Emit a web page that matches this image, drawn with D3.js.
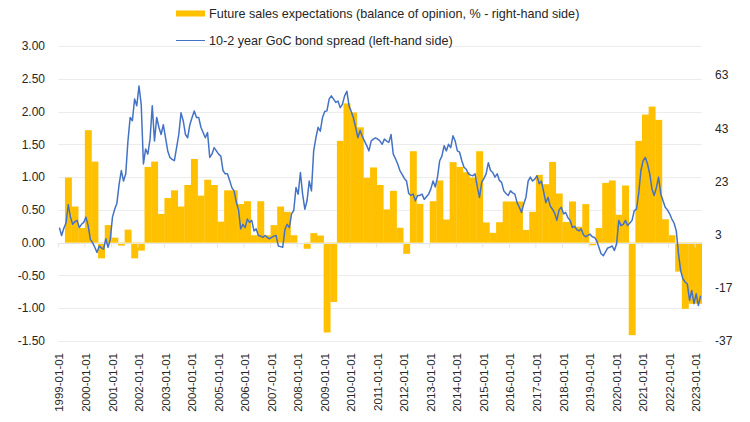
<!DOCTYPE html>
<html>
<head>
<meta charset="utf-8">
<script src="https://cdn.jsdelivr.net/npm/d3@7"></script>
<style>
body { margin: 0; background: #fff; }
text { font-family: "Liberation Sans", Arial, sans-serif; fill: #262626; }
</style>
</head>
<body>
<script>
// 10-2 year GoC bond spread, monthly, Jan 1999 - Mar 2023 (left axis)
var spread = [
	0.23, 0.11, 0.22, 0.30, 0.58, 0.39, 0.28, 0.32, 0.34, 0.23, 0.28, 0.31, // 1999
	0.39, 0.26, 0.05, 0.00, -0.07, -0.15, -0.05, -0.08, -0.10, 0.06, -0.07, 0.05, // 2000
	0.39, 0.51, 0.60, 0.89, 1.10, 0.94, 1.05, 1.55, 1.91, 1.86, 2.19, 2.09, // 2001
	2.39, 2.11, 1.20, 1.43, 1.35, 1.58, 2.09, 1.55, 1.91, 1.76, 1.65, 1.80, // 2002
	1.60, 1.40, 1.30, 1.27, 1.25, 1.45, 1.65, 1.98, 1.86, 1.65, 1.60, 1.80, // 2003
	1.91, 2.01, 1.91, 1.91, 1.76, 1.68, 1.60, 1.68, 1.30, 1.35, 1.45, 1.40, // 2004
	1.35, 1.32, 1.10, 1.05, 1.05, 0.95, 0.84, 0.79, 0.62, 0.50, 0.21, 0.28, // 2005
	0.23, 0.36, 0.31, 0.34, 0.18, 0.21, 0.11, 0.10, 0.08, 0.11, 0.08, 0.06, // 2006
	0.08, 0.10, 0.11, -0.05, -0.06, -0.07, 0.20, 0.28, 0.23, 0.44, 0.49, 0.84, // 2007
	0.74, 1.07, 0.74, 0.51, 0.64, 0.94, 0.79, 1.40, 1.60, 1.76, 1.70, 1.91, // 2008
	2.00, 2.01, 2.19, 2.24, 2.19, 2.14, 2.16, 2.06, 2.11, 2.24, 2.31, 2.09, // 2009
	2.00, 1.90, 1.76, 1.60, 1.71, 1.62, 1.55, 1.48, 1.40, 1.55, 1.58, 1.60, // 2010
	1.58, 1.55, 1.50, 1.58, 1.55, 1.53, 1.65, 1.35, 1.28, 1.20, 1.10, 1.04, // 2011
	0.98, 0.94, 0.75, 0.72, 0.74, 0.64, 0.72, 0.72, 0.74, 0.66, 0.70, 0.74, // 2012
	0.82, 0.94, 0.85, 1.00, 1.25, 1.32, 1.48, 1.40, 1.50, 1.45, 1.63, 1.55, // 2013
	1.40, 1.38, 1.25, 1.15, 1.12, 1.05, 1.03, 1.02, 1.05, 0.85, 0.69, 0.92, // 2014
	0.98, 1.05, 1.22, 1.10, 1.07, 1.00, 1.05, 0.95, 0.92, 0.79, 0.75, 0.72, // 2015
	0.79, 0.76, 0.74, 0.61, 0.54, 0.46, 0.59, 0.69, 0.94, 1.00, 0.94, 0.97, // 2016
	1.02, 0.90, 0.94, 0.78, 0.61, 0.69, 0.56, 0.51, 0.45, 0.34, 0.50, 0.54, // 2017
	0.44, 0.46, 0.38, 0.34, 0.23, 0.25, 0.20, 0.18, 0.21, 0.12, 0.09, 0.11, // 2018
	0.13, 0.09, 0.08, 0.03, -0.07, -0.17, -0.20, -0.14, -0.08, -0.07, -0.05, -0.12, // 2019
	-0.02, 0.34, 0.26, 0.28, 0.34, 0.26, 0.30, 0.34, 0.49, 0.51, 0.75, 1.10, // 2020
	1.25, 1.30, 1.20, 1.05, 0.82, 0.72, 0.84, 1.00, 0.74, 0.64, 0.54, 0.50, // 2021
	0.44, 0.36, 0.30, 0.18, -0.17, -0.43, -0.55, -0.60, -0.63, -0.88, -0.73, -0.93, // 2022
	-0.78, -0.96, -0.81 // 2023
];

// Future sales expectations, quarterly from 1999-04 to 2023-01 (right axis)
var salesStart = new Date(1999, 3, 1);
var sales = [
	24.5, 13.6, 5.5, // 1999
	42.3, 30.5, -5.9, 6.6, // 2000
	1.9, -1.1, 4.9, -5.9, // 2001
	-3.0, 28.5, 30.5, 10.8, // 2002
	16.8, 19.7, 13.6, 21.7, // 2003
	31.5, 17.7, 23.7, 21.7, // 2004
	7.9, 19.7, 19.7, 14.5, // 2005
	15.6, 2.8, 15.6, 2.8, // 2006
	6.6, 13.6, 11.6, 2.8, // 2007
	0, -2.3, 3.6, 2.7, // 2008
	-33.8, -22.3, 38.3, 52.4, // 2009
	49.0, 43.4, 24.4, 28.3, // 2010
	21.7, 12.5, 19.5, 5.6, // 2011
	-4.2, 34.4, 14.6, 0, // 2012
	15.6, 23.4, 8.7, 30.3, // 2013
	28.5, 26.5, 24.5, 34.4, // 2014
	7.6, 3.7, 7.7, 15.5, // 2015
	15.5, 15.5, 4.8, 11.6, // 2016
	25.5, 22.0, 30.4, 18.5, // 2017
	7.8, 15.5, 6.0, 14.5, // 2018
	-1.0, 5.5, 22.5, 23.4, // 2019
	10.5, 21.5, -34.8, 38.3, // 2020
	48.2, 51.2, 46.2, 8.8, // 2021
	2.8, -10.9, -24.9, -23.0, // 2022
	-23.0 // 2023
];

var leftTicks = [-1.5, -1, -0.5, 0, 0.5, 1, 1.5, 2, 2.5, 3];
var rightTicks = [-37, -17, 3, 23, 43, 63];
var legendLabels = ["Future sales expectations (balance of opinion, % - right-hand side)",
	"10-2 year GoC bond spread (left-hand side)"];

var barColor = "#ffc000", lineColor = "#4472c4";

var width = 750, height = 422;
var plot = { left: 58.3, right: 701.7, top: 46, bottom: 341 };

var fmt = d3.timeFormat("%Y-%m-%d");
var months = d3.timeMonth.range(new Date(1999, 0, 1), new Date(1999, spread.length, 1));

var x = d3.scaleBand().domain(months.map(fmt)).range([ plot.left, plot.right ]);
var yL = d3.scaleLinear().domain([ -1.5, 3 ]).range([ plot.bottom, plot.top ]);
var yR = d3.scaleLinear().domain([ -37, 74 ]).range([ plot.bottom, plot.top ]);

var svg = d3.select("body").append("svg").attr("width", width).attr("height", height);

// gridlines
svg.append("g").selectAll("line").data(leftTicks).enter().append("line")
	.attr("x1", plot.left).attr("x2", plot.right)
	.attr("y1", function(d) { return Math.round(yL(d)) + 0.5; })
	.attr("y2", function(d) { return Math.round(yL(d)) + 0.5; })
	.attr("stroke", "#ececec").attr("stroke-width", 1);

// bars
var bw = x.bandwidth();
svg.append("g").selectAll("rect").data(sales).enter().append("rect")
	.attr("x", function(d, i) { return x(fmt(d3.timeMonth.offset(salesStart, 3 * i))); })
	.attr("width", bw * 3 + 0.3)
	.attr("y", function(d) { return yR(Math.max(0, d)); })
	.attr("height", function(d) { return Math.abs(yR(d) - yR(0)); })
	.attr("fill", barColor);

// category axis at zero with year ticks
var y0 = Math.round(yL(0)) + 0.5;
svg.append("line").attr("x1", plot.left).attr("x2", plot.right)
	.attr("y1", y0).attr("y2", y0).attr("stroke", "#e4e4e4");
var janMonths = months.filter(function(d) { return d.getMonth() === 0; });
svg.append("g").selectAll("line").data(janMonths).enter().append("line")
	.attr("x1", function(d) { return x(fmt(d)); })
	.attr("x2", function(d) { return x(fmt(d)); })
	.attr("y1", y0).attr("y2", y0 + 4)
	.attr("stroke", "#e4e4e4");

// spread line
var line = d3.line()
	.x(function(d, i) { return x(fmt(months[i])) + bw / 2; })
	.y(function(d) { return yL(d); });
svg.append("path").datum(spread).attr("d", line)
	.attr("fill", "none").attr("stroke", lineColor).attr("stroke-width", 1.5)
	.attr("stroke-linejoin", "round");

// left axis labels
svg.append("g").selectAll("text").data(leftTicks).enter().append("text")
	.attr("x", 45).attr("y", function(d) { return yL(d); })
	.attr("dy", "0.35em").attr("text-anchor", "end")
	.style("font-size", "12px")
	.text(function(d) { return d.toFixed(2); });

// right axis labels
svg.append("g").selectAll("text").data(rightTicks).enter().append("text")
	.attr("x", 715).attr("y", function(d) { return yR(d); })
	.attr("dy", "0.35em").attr("text-anchor", "start")
	.style("font-size", "12px")
	.text(function(d) { return d; });

// x labels
svg.append("g").selectAll("text").data(janMonths).enter().append("text")
	.attr("transform", function(d) {
		return "translate(" + (x(fmt(d)) + bw / 2) + ",353) rotate(-90)";
	})
	.attr("dy", "0.35em").attr("text-anchor", "end")
	.style("font-size", "11.5px")
	.text(fmt);

// legend
var legend = svg.append("g");
legend.append("rect").attr("x", 176).attr("y", 10.5).attr("width", 29).attr("height", 6)
	.attr("fill", barColor);
legend.append("line").attr("x1", 176).attr("x2", 205).attr("y1", 40.5).attr("y2", 40.5)
	.attr("stroke", lineColor).attr("stroke-width", 1);
legend.selectAll("text").data(legendLabels).enter().append("text")
	.attr("x", 209).attr("y", function(d, i) { return 13.5 + i * 27.5; })
	.attr("dy", "0.35em").style("font-size", "12.6px")
	.text(function(d) { return d; });
</script>
</body>
</html>
